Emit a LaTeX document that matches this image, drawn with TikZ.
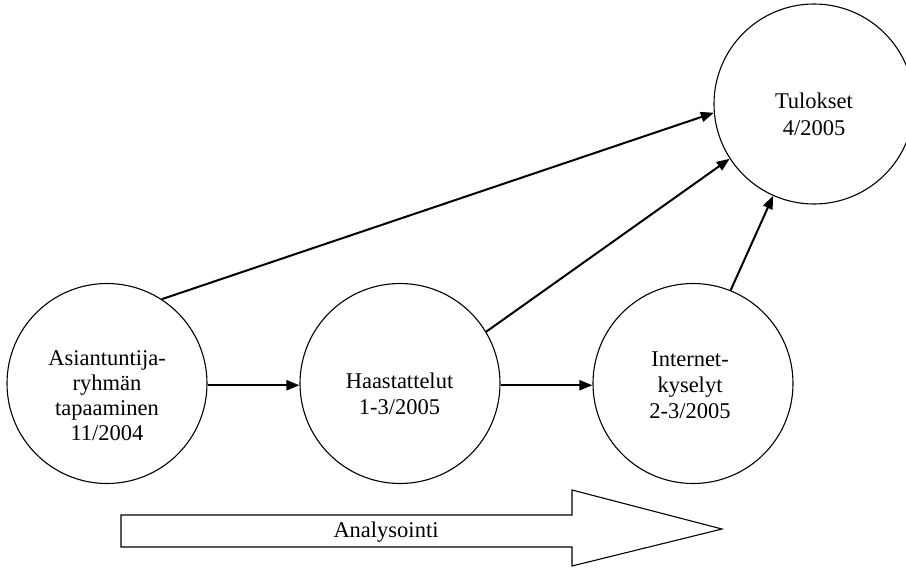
\documentclass[tikz,border=0pt]{standalone}
\usepackage{fontspec}
\setmainfont{Liberation Serif}
\usetikzlibrary{arrows.meta}

\tikzset{
  stage/.style={circle, draw, line width=1.1pt, minimum size=200pt, inner sep=0pt},
  stagetext/.style={align=center, inner sep=0pt, font=\fontsize{22.5}{26.5}\selectfont},
  flow/.style={line width=2pt, -{Triangle[length=13pt,width=10pt]}},
  bigarrow/.style={draw, line width=1.1pt},
}

\begin{document}
\begin{tikzpicture}[x=1pt, y=-1pt]
  \useasboundingbox (0,0) rectangle (906,568);
  \clip (0,0) rectangle (906,568);

  % process stages
  \node[stage] (c1) at (107,383.5) {};
  \node[stage] (c2) at (400,383.5) {};
  \node[stage] (c3) at (693,383.5) {};
  \node[stage] (c4) at (814,104) {};

  % stage labels
  \node[stagetext, font=\fontsize{22.5}{25}\selectfont] (t1) at (107,395.2)
    {Asiantuntija-\\ryhmän\\tapaaminen\\11/2004};
  \node[stagetext] (t2) at (399.5,393.6) {Haastattelut\\1-3/2005};
  \node[stagetext, font=\fontsize{22.5}{25.7}\selectfont] (t3) at (690,385.2)
    {Internet-\\kyselyt\\2-3/2005};
  \node[stagetext] (t4) at (814,114.3) {Tulokset\\4/2005};

  % connections between stages
  \draw[flow] (c1.-1) -- (c2.181);
  \draw[flow] (c2.-1) -- (c3.181);
  \draw[flow] (c1.57) -- (c4.185);
  \draw[flow] (c2.31.7) -- (c4.213.7);
  \draw[flow] (c3.68.4) -- (c4.246.2);

  % analysis arrow along the bottom
  \draw[bigarrow] (121,515) -- (572,515) -- (572,490) -- (722,529)
    -- (572,566) -- (572,547) -- (121,547) -- cycle;
  \node[font=\fontsize{22.5}{26}\selectfont, inner sep=0pt] (an) at (386,532) {Analysointi};
\end{tikzpicture}
\end{document}
